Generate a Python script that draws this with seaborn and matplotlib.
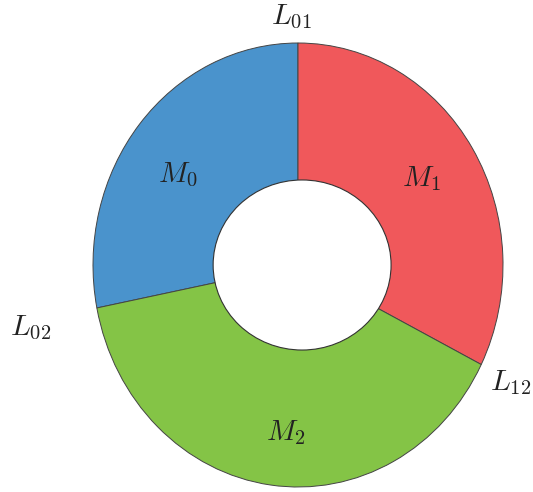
import numpy as np
import seaborn as sns
import matplotlib.pyplot as plt
from matplotlib.patches import Ellipse
from matplotlib.transforms import offset_copy

sns.set_theme(style="white")
plt.rcParams['mathtext.fontset'] = 'cm'

# wedge data (percent of the ring)
segments = ["M_0", "M_1", "M_2"]
shares = [28.1, 32.4, 39.5]
colors = ["#4a93cc", "#f0585b", "#84c446"]
# boundary labels, in order: M0|M1, M1|M2, M2|M0
boundary_labels = ["L_{01}", "L_{12}", "L_{02}"]

fig = plt.figure(figsize=(5.33, 4.92), dpi=100)
ax = fig.add_axes([0, 0, 1, 1])

total = sum(shares)
start = 90 + 360 * shares[0] / total  # M0 ends at 12 o'clock
wedges, _ = ax.pie(shares, colors=colors, startangle=start, counterclock=False,
                   wedgeprops=dict(edgecolor="#444444", linewidth=0.7))

# hole in the middle
ax.add_patch(Ellipse((0.02, 0.0), 0.868, 0.766, facecolor="white",
                     edgecolor="#333333", linewidth=0.8, zorder=5))

# segment names at mid-angle, nudged a little down
down = offset_copy(ax.transData, fig=fig, x=0, y=-6, units="dots")
for w, name in zip(wedges, segments):
    mid = np.deg2rad((w.theta1 + w.theta2) / 2 + 3)
    ax.text(0.73 * np.cos(mid), 0.73 * np.sin(mid), "$%s$" % name,
            ha="center", va="center", fontsize=21, color="#222222",
            zorder=6, transform=down)

# boundary labels at the end of each wedge
label_r = [1.117, 1.16, 1.33]
label_shift = [(-7, 0), (0, -2), (0, -6)]
for w, name, r, (dx, dy) in zip(wedges, boundary_labels, label_r, label_shift):
    a = np.deg2rad(w.theta1)
    tr = offset_copy(ax.transData, fig=fig, x=dx, y=dy, units="dots")
    ax.text(r * np.cos(a), r * np.sin(a), "$%s$" % name, transform=tr,
            ha="center", va="center", fontsize=21, color="#222222")

ax.set_aspect("auto")
ax.set_xlim(-298 / 205, 235 / 205)
ax.set_ylim(-227 / 222, 265 / 222)
ax.axis("off")

fig.savefig("out.png", dpi=100)
